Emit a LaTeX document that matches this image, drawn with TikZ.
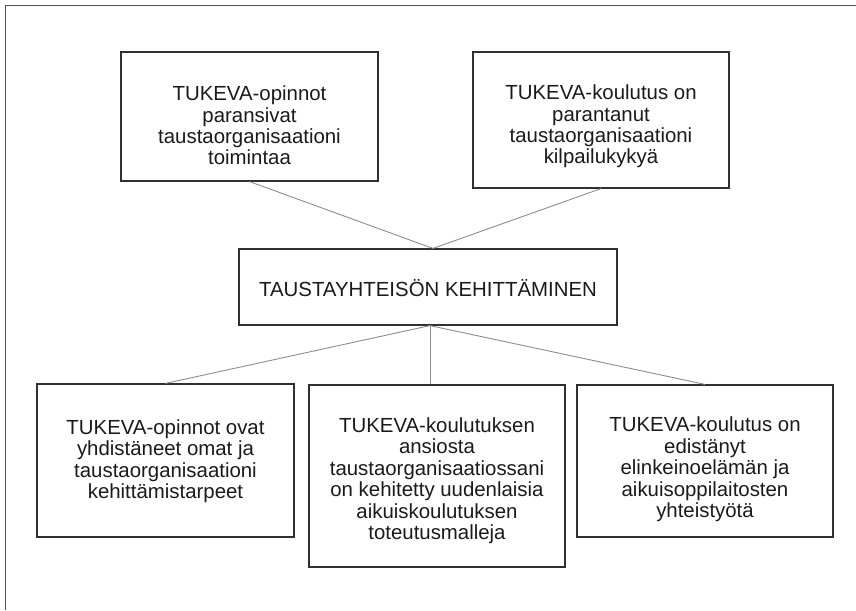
\documentclass[tikz,border=0pt]{standalone}
\usepackage{fontspec}
\setmainfont{Liberation Sans}
\usepackage{xcolor}
\usepackage{tikz}
\usetikzlibrary{arrows}

\definecolor{boxline}{HTML}{303030}
\definecolor{linkgray}{HTML}{8C8C8C}
\definecolor{textgray}{HTML}{1A1A1A}
\definecolor{framegray}{HTML}{505050}

\begin{document}
\begin{tikzpicture}[x=1pt,y=-1pt,
    every node/.style={font=\fontsize{20.4}{21.4}\selectfont, text=textgray}]

    \useasboundingbox (0,0) rectangle (856,610);
    % outer frame (only top and left are visible)
    \draw[framegray, line width=1pt] (5,610) -- (5,6) -- (856,6);

    % text nodes sit on the baseline of their last line
    \node[rectangle,
          draw = boxline,
          line width = 1.2pt,
          minimum width = 257pt,
          minimum height = 129pt
          ] (opinnot) at (249.5,116.5) {};
    \node[anchor=base, align=center] at ([yshift=-113.5pt]opinnot.north)
        {TUKEVA-opinnot\\paransivat\\taustaorganisaationi\\toimintaa};

    \node[rectangle,
          draw = boxline,
          line width = 1.2pt,
          minimum width = 256pt,
          minimum height = 136pt
          ] (kilpailu) at (601,120) {};
    \node[anchor=base, align=center] at ([yshift=-112.5pt]kilpailu.north)
        {TUKEVA-koulutus on\\parantanut\\taustaorganisaationi\\kilpailukykyä};

    \node[rectangle,
          draw = boxline,
          line width = 1.2pt,
          minimum width = 378pt,
          minimum height = 76pt
          ] (kehitys) at (428,287) {};
    \node[anchor=base, align=center] at ([yshift=-48pt]kehitys.north)
        {TAUSTAYHTEISÖN KEHITTÄMINEN};

    \node[rectangle,
          draw = boxline,
          line width = 1.2pt,
          minimum width = 257pt,
          minimum height = 153pt
          ] (tarpeet) at (165.5,460.5) {};
    \node[anchor=base, align=center] at ([yshift=-115pt]tarpeet.north)
        {TUKEVA-opinnot ovat\\yhdistäneet omat ja\\taustaorganisaationi\\kehittämistarpeet};

    \node[rectangle,
          draw = boxline,
          line width = 1.2pt,
          minimum width = 256pt,
          minimum height = 182pt
          ] (mallit) at (437,476) {};
    \node[anchor=base, align=center] at ([yshift=-155pt]mallit.north)
        {TUKEVA-koulutuksen\\ansiosta\\taustaorganisaatiossani\\on kehitetty uudenlaisia\\aikuiskoulutuksen\\toteutusmalleja};

    \node[rectangle,
          draw = boxline,
          line width = 1.2pt,
          minimum width = 256pt,
          minimum height = 152pt
          ] (yhteistyo) at (705,461) {};
    \node[anchor=base, align=center] at ([yshift=-133pt]yhteistyo.north)
        {TUKEVA-koulutus on\\edistänyt\\elinkeinoelämän ja\\aikuisoppilaitosten\\yhteistyötä};

    \coordinate (kehitysin) at ([xshift=5pt]kehitys.north);
    \coordinate (kehitysout) at ([xshift=2pt]kehitys.south);

    \path[draw=linkgray, line width=0.9pt]
    % upper links
    (opinnot.south) edge (kehitysin)
    (kilpailu.south) edge (kehitysin)
    % lower links
    (kehitysout) edge (tarpeet.north)
    (kehitysout) edge (kehitysout |- mallit.north)
    (kehitysout) edge (yhteistyo.north);

\end{tikzpicture}
\end{document}
